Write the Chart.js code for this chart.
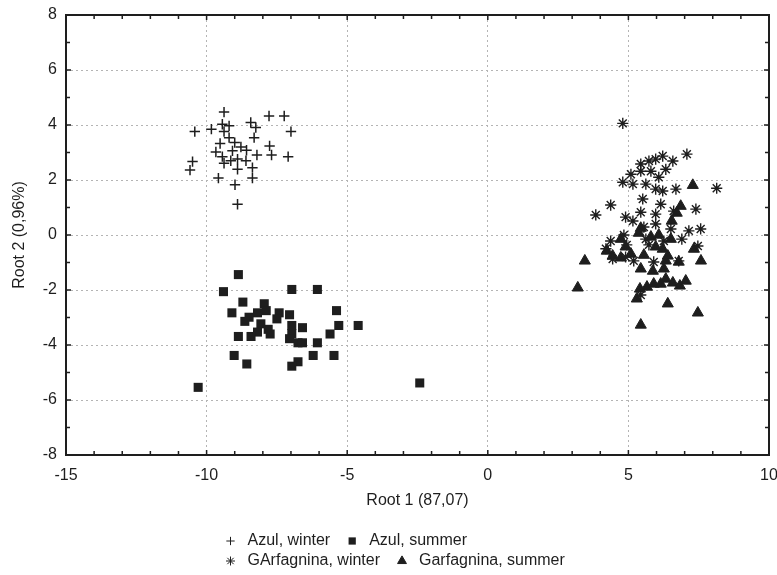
<!DOCTYPE html>
<html>
<head>
<meta charset="utf-8">
<script src="https://cdn.jsdelivr.net/npm/chart.js@4.4.0/dist/chart.umd.min.js"></script>
<style>
  html, body { margin: 0; padding: 0; background: #fff; }
  #wrap { width: 777px; height: 575px; }
</style>
</head>
<body>
<div id="wrap"><canvas id="chart" width="777" height="575"></canvas></div>
<script>
const xTitle = "Root 1 (87,07)"
const yTitle = "Root 2 (0,96%)"
const seriesNames = ["Azul, winter", "Azul, summer", "GArfagnina, winter", "Garfagnina, summer"]

const azulWinterX = [-9.38, -7.78, -7.24, -9.44, -9.2, -8.43, -8.25, -10.42, -9.83, -9.38, -7.0, -9.2, -8.31, -9.52, -9.0, -8.78, -7.76, -9.67, -9.08, -8.58, -8.21, -7.69, -9.44, -7.1, -10.5, -9.14, -8.9, -8.6, -9.38, -8.37, -10.59, -8.9, -9.58, -8.37, -8.99, -8.9]
const azulWinterY = [4.47, 4.33, 4.33, 4.03, 3.97, 4.09, 3.91, 3.76, 3.85, 3.76, 3.76, 3.54, 3.54, 3.33, 3.36, 3.2, 3.24, 3.02, 3.06, 3.08, 2.91, 2.91, 2.85, 2.85, 2.67, 2.7, 2.76, 2.7, 2.61, 2.45, 2.36, 2.39, 2.07, 2.07, 1.83, 1.12]

const azulSummerX = [-8.87, -9.4, -6.97, -6.06, -8.71, -7.95, -7.88, -9.1, -8.19, -7.42, -7.05, -5.38, -8.49, -8.64, -7.5, -8.07, -6.97, -6.59, -5.3, -4.61, -7.81, -8.19, -7.74, -6.97, -8.87, -8.42, -5.61, -7.05, -6.75, -6.59, -6.06, -9.02, -6.21, -5.47, -8.57, -6.75, -6.97, -10.3, -2.42]
const azulSummerY = [-1.44, -2.06, -1.98, -1.98, -2.44, -2.5, -2.75, -2.83, -2.83, -2.83, -2.9, -2.75, -2.99, -3.14, -3.05, -3.23, -3.29, -3.37, -3.29, -3.29, -3.43, -3.53, -3.6, -3.59, -3.69, -3.69, -3.6, -3.77, -3.92, -3.92, -3.92, -4.38, -4.38, -4.38, -4.69, -4.61, -4.77, -5.54, -5.38]

const garfWinterX = [4.8, 7.08, 6.58, 6.22, 5.97, 5.73, 5.44, 6.33, 5.8, 6.08, 5.44, 5.09, 4.8, 5.16, 5.62, 5.97, 6.69, 8.14, 6.22, 5.51, 6.15, 5.44, 7.4, 5.97, 6.61, 3.84, 4.37, 4.9, 5.16, 5.55, 5.97, 6.51, 7.15, 7.57, 4.84, 4.37, 6.9, 4.94, 5.73, 6.26, 7.47, 4.44, 4.9, 5.19, 5.9, 6.79, 5.44, 5.62, 4.2]
const garfWinterY = [4.06, 2.94, 2.69, 2.87, 2.76, 2.69, 2.58, 2.39, 2.32, 2.1, 2.32, 2.21, 1.92, 1.85, 1.85, 1.67, 1.67, 1.7, 1.6, 1.31, 1.12, 0.83, 0.94, 0.76, 0.87, 0.73, 1.09, 0.65, 0.51, 0.29, 0.4, 0.22, 0.15, 0.22, 0.0, -0.22, -0.15, -0.36, -0.36, -0.22, -0.4, -0.87, -0.8, -0.94, -0.98, -0.94, -2.18, -0.15, -0.5]

const garfSummerX = [7.29, 6.86, 6.72, 6.54, 5.44, 5.37, 5.8, 6.08, 4.73, 4.9, 4.44, 4.73, 3.45, 4.23, 5.97, 6.22, 6.4, 6.79, 7.33, 7.58, 5.44, 5.87, 6.26, 6.33, 6.15, 5.66, 5.9, 6.58, 6.83, 7.04, 5.41, 3.2, 5.3, 6.4, 7.47, 5.44, 5.09, 5.55, 6.51, 6.33]
const garfSummerY = [1.81, 1.05, 0.8, 0.51, 0.25, 0.07, -0.07, 0.0, -0.15, -0.43, -0.76, -0.83, -0.94, -0.58, -0.43, -0.51, -0.76, -0.98, -0.51, -0.94, -1.23, -1.31, -1.23, -1.6, -1.78, -1.89, -1.78, -1.74, -1.85, -1.67, -1.96, -1.92, -2.32, -2.5, -2.83, -3.27, -0.69, -0.73, -0.15, -0.94]

const xMin = -15, xMax = 10, xStep = 5
const yMin = -8, yMax = 8, yStep = 2

const ink = "#1e1e1e"
const fontFamily = "'Liberation Sans', Arial, sans-serif"

const zip = (xs, ys) => xs.map((x, i) => ({ x, y: ys[i] }))

const markers = [
  { pointStyle: "cross", radius: 5.2, borderWidth: 1.5 },
  { pointStyle: "rect", radius: 6.4, borderWidth: 0 },
  { pointStyle: "star", radius: 5.6, borderWidth: 1.4 },
  { pointStyle: "triangle", radius: 6.4, borderWidth: 1 }
]

const seriesData = [
  zip(azulWinterX, azulWinterY),
  zip(azulSummerX, azulSummerY),
  zip(garfWinterX, garfWinterY),
  zip(garfSummerX, garfSummerY)
]

const datasets = seriesNames.map((label, i) => ({
  label,
  data: seriesData[i],
  pointStyle: markers[i].pointStyle,
  pointRadius: markers[i].radius,
  pointBorderWidth: markers[i].borderWidth,
  borderColor: ink,
  backgroundColor: ink,
  showLine: false
}))

// frame round the plot, with small inward ticks every unit
const framePlugin = {
  id: "frame",
  afterDraw(chart) {
    const { ctx, chartArea: a, scales: { x, y } } = chart
    ctx.save()
    ctx.strokeStyle = ink
    ctx.lineWidth = 2
    ctx.strokeRect(a.left, a.top, a.right - a.left, a.bottom - a.top)
    ctx.lineWidth = 1.5
    ctx.beginPath()
    for (let v = xMin + 1; v < xMax; v++) {
      const px = x.getPixelForValue(v)
      const len = v % xStep === 0 ? 5 : 4
      ctx.moveTo(px, a.bottom); ctx.lineTo(px, a.bottom - len)
      ctx.moveTo(px, a.top); ctx.lineTo(px, a.top + len)
    }
    for (let v = yMin + 1; v < yMax; v++) {
      const py = y.getPixelForValue(v)
      const len = v % yStep === 0 ? 5 : 4
      ctx.moveTo(a.left, py); ctx.lineTo(a.left + len, py)
      ctx.moveTo(a.right, py); ctx.lineTo(a.right - len, py)
    }
    ctx.stroke()
    ctx.restore()
  }
}

// legend in two left-aligned rows, as in the original
const legendPlugin = {
  id: "rowsLegend",
  afterDraw(chart) {
    const { ctx } = chart
    const rows = [[0, 1], [2, 3]]
    const rowY = [541, 561]
    ctx.save()
    ctx.font = `16px ${fontFamily}`
    ctx.textBaseline = "middle"
    rows.forEach((row, r) => {
      let x = 230.5
      row.forEach((i) => {
        const m = markers[i]
        ctx.strokeStyle = ink
        ctx.fillStyle = ink
        Chart.helpers.drawPoint(ctx, {
          pointStyle: m.pointStyle,
          radius: m.radius * 0.8,
          borderWidth: m.borderWidth * 0.9,
          rotation: 0
        }, x, rowY[r])
        ctx.fillStyle = ink
        ctx.fillText(seriesNames[i], x + 17, rowY[r])
        x += 17 + ctx.measureText(seriesNames[i]).width + 22
      })
    })
    ctx.restore()
  }
}

new Chart(document.getElementById("chart"), {
  type: "scatter",
  data: { datasets },
  options: {
    responsive: false,
    animation: false,
    devicePixelRatio: 1,
    layout: { padding: { left: 0, top: 15, right: 8, bottom: 0 } },
    plugins: {
      legend: { display: false },
      tooltip: { enabled: false }
    },
    scales: {
      x: {
        type: "linear",
        min: xMin,
        max: xMax,
        afterFit: (scale) => { scale.height = 120; scale.paddingRight = 0; scale.paddingLeft = 0 },
        ticks: { stepSize: xStep, padding: 11, color: ink, font: { size: 16, family: fontFamily } },
        grid: { color: "#b4b4b4", lineWidth: 1, drawTicks: false },
        border: { display: false, dash: [2, 3] },
        title: { display: true, text: xTitle, color: ink, font: { size: 16, family: fontFamily }, padding: { top: 0, bottom: 65 } }
      },
      y: {
        type: "linear",
        min: yMin,
        max: yMax,
        afterFit: (scale) => { scale.width = 66; scale.paddingTop = 0; scale.paddingBottom = 0 },
        ticks: { stepSize: yStep, padding: 9, color: ink, font: { size: 16, family: fontFamily } },
        grid: { color: "#b4b4b4", lineWidth: 1, drawTicks: false },
        border: { display: false, dash: [2, 3] },
        title: { display: true, text: yTitle, color: ink, font: { size: 16, family: fontFamily }, padding: { top: 10, bottom: 0 } }
      }
    }
  },
  plugins: [framePlugin, legendPlugin]
})
</script>
</body>
</html>
